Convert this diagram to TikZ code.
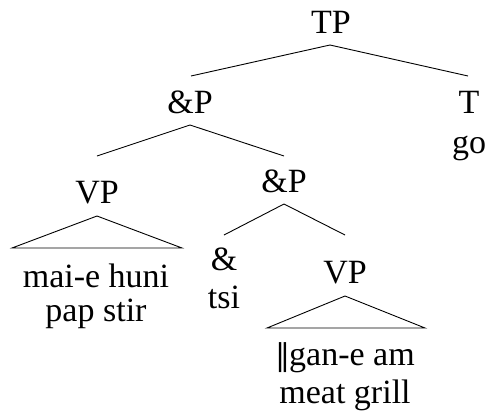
\documentclass[tikz,border=0pt]{standalone}
\usepackage{fontspec}
\setmainfont{Liberation Serif}
\newfontfamily\djv{DejaVu Serif}
\usetikzlibrary{calc}
\begin{document}
\begin{tikzpicture}[x=1pt,y=-1pt,
  lbl/.style={anchor=base,inner sep=0pt,font=\fontsize{34}{38}\selectfont},
  edge/.style={line width=0.9pt},
  tri/.style={line width=0.9pt}]
\useasboundingbox (0,0) rectangle (485,413);
% nodes
\node[lbl] (tp) at (331,33) {TP};
\node[lbl] (ap1) at (190,113) {\&P};
\node[lbl] (t) at (469,113) {T};
\node[lbl] (go) at (469,153) {go};
\node[lbl] (vp1) at (97,203) {VP};
\node[lbl] (ap2) at (284,192) {\&P};
\node[lbl] (amp) at (224,270) {\&};
\node[lbl] (tsi) at (224,308) {tsi};
\node[lbl] (vp2) at (345,283) {VP};
\node[lbl] (l1a) at (96,287) {mai-e huni};
\node[lbl] (l1b) at (96,321) {pap stir};
\node[lbl] (l2a) at (345,365) {{\djv\fontsize{30}{34}\selectfont ‖}\kern-1pt gan-e am};
\node[lbl] (l2b) at (345,403) {meat grill};
% edges
\draw[edge] ($(tp.base)+(-1,12)$) -- ($(ap1.base)+(1,-37)$);
\draw[edge] ($(tp.base)+(-1,12)$) -- ($(t.base)+(-1,-37)$);
\draw[edge] ($(ap1.base)+(0,12)$) -- ($(vp1.base)+(0,-47)$);
\draw[edge] ($(ap1.base)+(0,12)$) -- ($(ap2.base)+(0,-36)$);
\draw[edge] ($(ap2.base)+(0,12)$) -- ($(amp.base)+(0,-35)$);
\draw[edge] ($(ap2.base)+(0,12)$) -- ($(vp2.base)+(0,-48)$);
% triangles
\draw[tri] ($(vp1.base)+(0,13)$) -- ($(vp1.base)+(-85,45)$) -- ($(vp1.base)+(85,45)$) -- cycle;
\draw[tri] ($(vp2.base)+(0,13)$) -- ($(vp2.base)+(-78,45)$) -- ($(vp2.base)+(80,45)$) -- cycle;
\end{tikzpicture}
\end{document}
